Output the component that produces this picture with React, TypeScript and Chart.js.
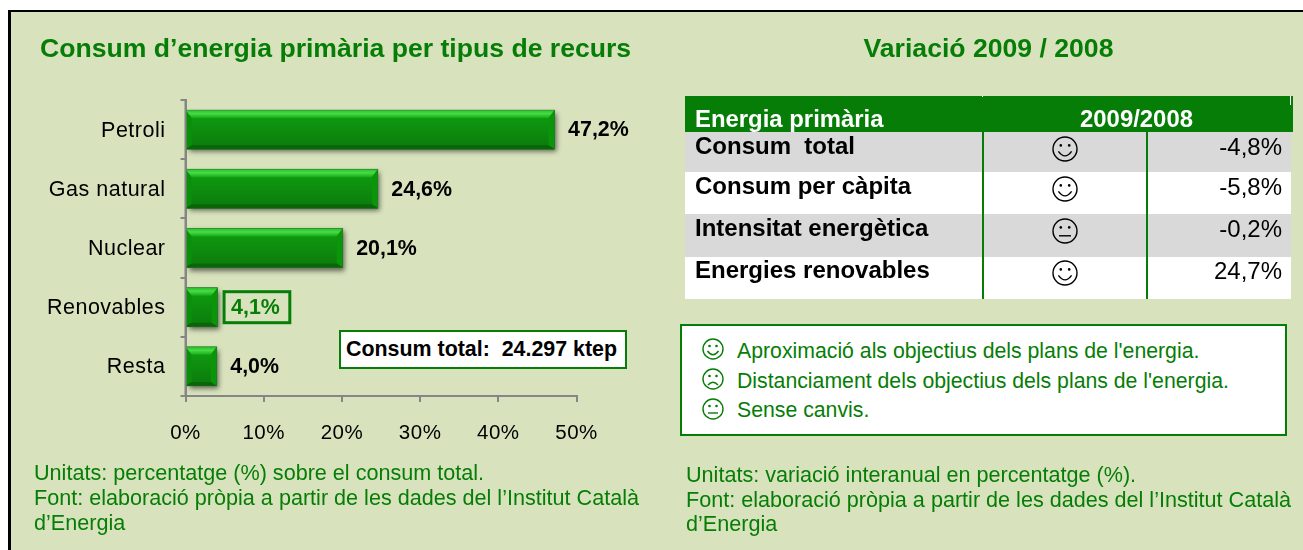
import React, { useEffect, useRef } from "react";
import { Chart, registerables } from "chart.js";

Chart.register(...registerables);

const categories = ["Petroli", "Gas natural", "Nuclear", "Renovables", "Resta"];
const shares = [47.2, 24.6, 20.1, 4.1, 4.0];
const xTicks = [0, 10, 20, 30, 40, 50];
const highlighted = "Renovables";

const tableHeader = ["Energia primària", "2009/2008"];
const tableRows = ["Consum  total", "Consum per càpita", "Intensitat energètica", "Energies renovables"];
const tableMoods = ["happy", "happy", "neutral", "happy"];
const tableValues = ["-4,8%", "-5,8%", "-0,2%", "24,7%"];

const legendMoods = ["happy", "sad", "neutral"];
const legendTexts = [
  "Aproximació als objectius dels plans de l'energia.",
  "Distanciament dels objectius dels plans de l'energia.",
  "Sense canvis.",
];

const GREEN = "#067d06";
const BG = "#d8e3bd";
const FONT = "Arial, 'Liberation Sans', sans-serif";

const fmt = (v: number) => v.toFixed(1).replace(".", ",") + "%";

const barPlugin = {
  id: "bevelBars",
  beforeDraw(chart: any) {
    chart.ctx.letterSpacing = "0.5px";
  },
  beforeDatasetsDraw(chart: any) {
    const ctx = chart.ctx;
    chart.getDatasetMeta(0).data.forEach((b: any) => {
      const h = b.height;
      ctx.save();
      ctx.shadowColor = "rgba(0,0,0,0.55)";
      ctx.shadowBlur = 5;
      ctx.shadowOffsetX = 2;
      ctx.shadowOffsetY = 3;
      ctx.fillStyle = "#0a6a0a";
      ctx.fillRect(b.base, b.y - h / 2, b.x - b.base, h);
      ctx.restore();
    });
  },
  afterDatasetsDraw(chart: any) {
    const ctx = chart.ctx;
    const meta = chart.getDatasetMeta(0);
    meta.data.forEach((b: any, i: number) => {
      const l = b.base - 1;
      const r = b.x;
      const t = b.y - b.height / 2;
      const bt = b.y + b.height / 2;
      ctx.save();
      const main = ctx.createLinearGradient(0, t, 0, bt);
      main.addColorStop(0, "#10a010");
      main.addColorStop(1, "#0b7a0b");
      ctx.fillStyle = main;
      ctx.fillRect(l, t, r - l, bt - t);
      const bev = 8;
      const bevS = 6;
      const bevB = 4;
      const poly = (pts: number[][], fill: any) => {
        ctx.beginPath();
        pts.forEach((p, k) => (k ? ctx.lineTo(p[0], p[1]) : ctx.moveTo(p[0], p[1])));
        ctx.closePath();
        ctx.fillStyle = fill;
        ctx.fill();
      };
      const top = ctx.createLinearGradient(0, t, 0, t + bev);
      top.addColorStop(0, "#2cc02c");
      top.addColorStop(0.45, "#45dc45");
      top.addColorStop(1, "#16aa16");
      poly([[l, t], [r, t], [r - bevS, t + bev], [l + bevS, t + bev]], top);
      poly([[r, t], [r, bt], [r - bevS, bt - bevB], [r - bevS, t + bev]], "#0b950b");
      poly([[l, t], [l + bevS, t + bev], [l + bevS, bt - bevB], [l, bt]], "#0a8f0a");
      poly([[l, bt], [r, bt], [r - bevS, bt - bevB], [l + bevS, bt - bevB]], "#086608");
      ctx.strokeStyle = "rgba(60,100,60,0.4)";
      ctx.lineWidth = 1;
      ctx.strokeRect(l, t, r - l, bt - t);

      // value labels
      const label = fmt(shares[i]);
      const isHi = categories[i] === highlighted;
      ctx.font = `bold 21.4px ${FONT}`;
      ctx.letterSpacing = "0px";
      ctx.textBaseline = "middle";
      ctx.textAlign = "left";
      ctx.fillStyle = isHi ? GREEN : "#000";
      const lx = r + 13.5;
      ctx.fillText(label, lx, b.y + 1);
      if (isHi) {
        const w = ctx.measureText(label).width;
        ctx.strokeStyle = GREEN;
        ctx.lineWidth = 3;
        ctx.strokeRect(lx - 7, b.y - 15.5, w + 17, 31);
      }
      ctx.restore();
    });
    // the axis line stays on top of the bars
    const y = chart.scales.y;
    ctx.save();
    ctx.strokeStyle = "#868686";
    ctx.lineWidth = 2;
    ctx.beginPath();
    ctx.moveTo(y.right, y.top);
    ctx.lineTo(y.right, y.bottom);
    ctx.stroke();
    ctx.restore();
  },
};

function Face({ mood, cx, cy, r, color }: any) {
  const mouth =
    mood === "happy"
      ? `M${-0.55 * r} ${0.2 * r} Q0 ${0.95 * r} ${0.55 * r} ${0.2 * r}`
      : mood === "sad"
      ? `M${-0.5 * r} ${0.6 * r} Q0 ${0.05 * r} ${0.5 * r} ${0.6 * r}`
      : `M${-0.5 * r} ${0.4 * r} L${0.5 * r} ${0.4 * r}`;
  return (
    <svg
      style={{ position: "absolute", left: cx - r - 2, top: cy - r - 2 }}
      width={2 * r + 4}
      height={2 * r + 4}
      viewBox={`${-r - 2} ${-r - 2} ${2 * r + 4} ${2 * r + 4}`}
    >
      <circle r={r} fill="none" stroke={color} strokeWidth={1.4} />
      <circle cx={-0.35 * r} cy={-0.3 * r} r={1.3} fill={color} />
      <circle cx={0.35 * r} cy={-0.3 * r} r={1.3} fill={color} />
      <path d={mouth} fill="none" stroke={color} strokeWidth={1.4} />
    </svg>
  );
}

function T({ x, y, size, bold, color, children, spacing, right, center }: any) {
  // y is the text baseline
  const style: any = {
    position: "absolute",
    top: y - size * 0.93,
    lineHeight: `${size * 1.2}px`,
    height: size * 1.2,
    fontFamily: FONT,
    fontSize: size,
    fontWeight: bold ? "bold" : "normal",
    color,
    whiteSpace: "pre",
    letterSpacing: spacing ?? 0,
  };
  if (right != null) style.right = 1303 - right;
  else if (center) style.left = x, (style.transform = "translateX(-50%)");
  else style.left = x;
  return <div style={style}>{children}</div>;
}

const box = (x: number, y: number, w: number, h: number, extra: any = {}) =>
  ({ position: "absolute", left: x, top: y, width: w, height: h, boxSizing: "border-box", ...extra } as any);

export default function App() {
  const ref = useRef<HTMLCanvasElement>(null);
  useEffect(() => {
    const chart = new Chart(ref.current!, {
      type: "bar",
      data: {
        labels: categories,
        datasets: [
          {
            data: shares,
            backgroundColor: "#0b860b",
            barPercentage: 0.66,
            categoryPercentage: 1,
          },
        ],
      },
      options: {
        indexAxis: "y",
        animation: false,
        responsive: false,
        layout: { padding: { left: 0, top: 100, right: 726.5, bottom: 104 } },
        plugins: { legend: { display: false }, tooltip: { enabled: false } },
        scales: {
          x: {
            min: 0,
            max: 50,
            afterFit: (s: any) => { s.height = 50; },
            afterBuildTicks: (s: any) => { s.ticks = xTicks.map((value) => ({ value })); },
            grid: { drawOnChartArea: false, color: "#868686", tickLength: 6, lineWidth: 2 },
            border: { color: "#868686", width: 2 },
            ticks: { callback: (v: any) => v + "%", color: "#000", font: { size: 20.5, family: FONT }, padding: 19, maxRotation: 0 },
          },
          y: {
            afterFit: (s: any) => { s.width = 185.5; },
            grid: { offset: true, drawOnChartArea: false, color: "#868686", tickLength: 5, lineWidth: 2 },
            border: { color: "#868686", width: 2 },
            ticks: { color: "#000", font: { size: 21.5, family: FONT }, padding: 15, labelOffset: 1 },
          },
        },
      } as any,
      plugins: [barPlugin as any],
    });
    return () => chart.destroy();
  }, []);

  const rowTops = [132, 172, 214, 257];
  const rowH = [40, 42, 43, 42];
  const labelBase = [154, 194, 236, 278];
  const valueBase = [155, 195, 237, 279];
  const faceY = [149, 189, 231, 273];
  return (
    <div style={{ position: "absolute", left: 0, top: 0, width: 1303, height: 550, background: "#fff", overflow: "hidden" }}>
      <div style={box(8, 10, 1295, 540, { background: BG, borderTop: "2px solid #000", borderLeft: "3px solid #000" })} />
      <canvas ref={ref} width={1303} height={550} style={{ position: "absolute", left: 0, top: 0, width: 1303, height: 550 }} />

      <T x={40} y={58} size={26.6} bold color={GREEN}>Consum d’energia primària per tipus de recurs</T>
      <T x={988.5} y={58} size={26.6} bold color={GREEN} center>Variació 2009 / 2008</T>

      <div style={box(339, 330, 288, 39, { background: "#fff", border: `2px solid ${GREEN}` })} />
      <T x={346} y={357} size={21.4} bold color="#000">Consum total:  24.297 ktep</T>

      <T x={34} y={480} size={21.6} color={GREEN}>Unitats: percentatge (%) sobre el consum total.</T>
      <T x={34} y={505} size={21.6} color={GREEN}>Font: elaboració pròpia a partir de les dades del l’Institut Català</T>
      <T x={34} y={530} size={21.6} color={GREEN}>d’Energia</T>

      <div style={box(685, 96, 608, 36, { background: GREEN })} />
      <div style={box(982, 96, 1, 1, { background: "#fff" })} />
      <div style={box(1290, 96, 1, 9, { background: "#fff" })} />
      <T x={695} y={127} size={23.9} bold color="#fff">{tableHeader[0]}</T>
      <T x={1136.5} y={127} size={23.9} bold color="#fff" center>{tableHeader[1]}</T>
      {tableRows.map((label, i) => (
        <React.Fragment key={label}>
          <div style={box(685, rowTops[i], 606, rowH[i], { background: i % 2 === 0 ? "#d9d9d9" : "#fff" })} />
          <div style={box(982, rowTops[i], 2, rowH[i], { background: GREEN })} />
          <div style={box(1146, rowTops[i], 2, rowH[i], { background: GREEN })} />
          <T x={695} y={labelBase[i]} size={24} bold color="#000">{label}</T>
          <Face mood={tableMoods[i]} cx={1065} cy={faceY[i]} r={12} color="#000" />
          <T right={1282} y={valueBase[i]} size={24} color="#000">{tableValues[i]}</T>
        </React.Fragment>
      ))}

      <div style={box(680, 324, 607, 112, { background: "#fff", border: `2px solid ${GREEN}` })} />
      {legendTexts.map((text, i) => (
        <React.Fragment key={text}>
          <Face mood={legendMoods[i]} cx={712.5} cy={[349, 379, 409][i]} r={10} color={GREEN} />
          <T x={737} y={[359, 389, 418][i]} size={21.25} color={GREEN}>{text}</T>
        </React.Fragment>
      ))}

      <T x={686} y={482} size={21.6} color={GREEN}>Unitats: variació interanual en percentatge (%).</T>
      <T x={686} y={507} size={21.6} color={GREEN}>Font: elaboració pròpia a partir de les dades del l’Institut Català</T>
      <T x={686} y={531} size={21.6} color={GREEN}>d’Energia</T>
    </div>
  );
}
